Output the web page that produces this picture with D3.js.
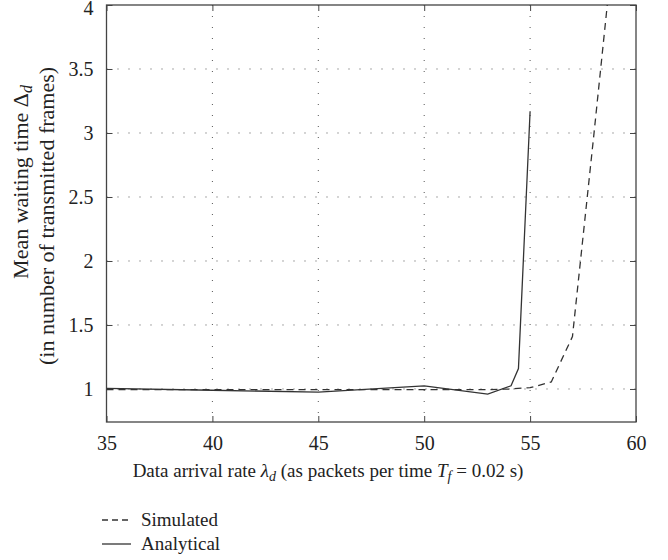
<!DOCTYPE html>
<html>
<head>
<meta charset="utf-8">
<script src="https://cdn.jsdelivr.net/npm/d3@7"></script>
<style>
  body { margin: 0; background: #fff; }
  svg text { font-family: "Liberation Serif", "Times New Roman", Times, serif; }
</style>
</head>
<body>
<svg id="chart"></svg>
<script>
// data
const xTicks = [35, 40, 45, 50, 55, 60];
const yTicks = [1, 1.5, 2, 2.5, 3, 3.5, 4];

const analyticalX = [35, 40, 45, 50, 53, 54.1, 54.45, 55];
const analyticalY = [1.005, 0.99, 0.975, 1.025, 0.96, 1.025, 1.16, 3.17];

const simulatedX = [35, 40, 45, 50, 53, 54, 55, 56, 57, 58, 59];
const simulatedY = [0.995, 0.995, 0.995, 0.995, 0.995, 1.0, 1.01, 1.055, 1.41, 2.97, 4.57];

const legendLabels = ['Simulated', 'Analytical'];

const width = 668, height = 560;
const margin = {top: 5, right: 32, bottom: 138, left: 106.5};
const serif = '"Liberation Serif", "Times New Roman", Times, serif';

const svg = d3.select('#chart')
    .attr('width', width)
    .attr('height', height);

const inner_width = width - margin.left - margin.right;
const inner_height = height - margin.top - margin.bottom;

const chart = svg.append('g')
    .attr('transform', `translate(${margin.left}, ${margin.top})`);

const xscale = d3.scaleLinear().domain([35, 60]).range([0, inner_width]);
const yscale = d3.scaleLinear().domain([0.742, 4]).range([inner_height, 0]);

// dotted grid
chart.append('g')
    .selectAll('line')
    .data(xTicks.slice(1, -1))
    .join('line')
    .attr('x1', d => xscale(d)).attr('x2', d => xscale(d))
    .attr('y1', 0).attr('y2', inner_height)
    .attr('stroke', '#555')
    .attr('stroke-width', 1)
    .attr('stroke-dasharray', '1,10');

chart.append('g')
    .selectAll('line')
    .data(yTicks.slice(0, -1))
    .join('line')
    .attr('x1', 0).attr('x2', inner_width)
    .attr('y1', d => yscale(d)).attr('y2', d => yscale(d))
    .attr('stroke', '#555')
    .attr('stroke-width', 1)
    .attr('stroke-dasharray', '1,10');

// axes, ticks inward on all four sides
const tickLen = 6;
const fmt = d => String(d);
const xaxis = d3.axisBottom(xscale).tickValues(xTicks).tickFormat(fmt).tickSizeInner(-tickLen).tickSizeOuter(0).tickPadding(14);
const yaxis = d3.axisLeft(yscale).tickValues(yTicks).tickFormat(fmt).tickSizeInner(-tickLen).tickSizeOuter(0).tickPadding(13);
const xaxisTop = d3.axisTop(xscale).tickValues(xTicks).tickSizeInner(-tickLen).tickSizeOuter(0).tickFormat('');
const yaxisRight = d3.axisRight(yscale).tickValues(yTicks).tickSizeInner(-tickLen).tickSizeOuter(0).tickFormat('');

const styleAxis = g => {
    g.attr('font-family', serif);
    g.select('.domain').remove();
    g.selectAll('.tick line').attr('stroke', '#444').attr('stroke-width', 1);
    g.selectAll('.tick text')
        .attr('fill', '#222')
        .style('font-size', '20px');
};

chart.append('g').attr('transform', `translate(0, ${inner_height})`).call(xaxis).call(styleAxis);
chart.append('g').call(yaxis).call(styleAxis)
    .selectAll('.tick text').filter(d => d === 4).attr('dy', '0.45em');
chart.append('g').call(xaxisTop).call(styleAxis);
chart.append('g').attr('transform', `translate(${inner_width}, 0)`).call(yaxisRight).call(styleAxis);

chart.append('rect')
    .attr('x', 0).attr('y', 0)
    .attr('width', inner_width).attr('height', inner_height)
    .attr('fill', 'none')
    .attr('stroke', '#444')
    .attr('stroke-width', 1.3);

// curves
chart.append('clipPath').attr('id', 'clip')
    .append('rect').attr('width', inner_width).attr('height', inner_height);

const line = d3.line()
    .x(d => xscale(d[0]))
    .y(d => yscale(d[1]));

chart.append('path')
    .datum(d3.zip(simulatedX, simulatedY))
    .attr('clip-path', 'url(#clip)')
    .attr('fill', 'none')
    .attr('stroke', '#333')
    .attr('stroke-width', 1.3)
    .attr('stroke-dasharray', '7,5')
    .attr('d', line);

chart.append('path')
    .datum(d3.zip(analyticalX, analyticalY))
    .attr('clip-path', 'url(#clip)')
    .attr('fill', 'none')
    .attr('stroke', '#333')
    .attr('stroke-width', 1.3)
    .attr('d', line);

// axis titles
const xlabel = svg.append('text')
    .attr('x', 328)
    .attr('y', 477)
    .attr('text-anchor', 'middle')
    .attr('fill', '#222')
    .style('font-size', '19px');
xlabel.append('tspan').text('Data arrival rate ');
xlabel.append('tspan').attr('font-style', 'italic').text('λ');
xlabel.append('tspan').attr('font-style', 'italic').attr('font-size', '14px').attr('dy', 4).text('d');
xlabel.append('tspan').attr('dy', -4).text(' (as packets per time ');
xlabel.append('tspan').attr('font-style', 'italic').text('T');
xlabel.append('tspan').attr('font-style', 'italic').attr('font-size', '14px').attr('dy', 4).text('f');
xlabel.append('tspan').attr('dy', -4).text(' = 0.02 s)');

const ylabel = svg.append('text')
    .attr('transform', 'rotate(-90)')
    .attr('text-anchor', 'middle')
    .attr('fill', '#222')
    .style('font-size', '22px');
const yl1 = ylabel.append('tspan').attr('x', -182).attr('y', 28);
yl1.append('tspan').text('Mean waiting time Δ');
yl1.append('tspan').attr('font-style', 'italic').attr('font-size', '16px').attr('dy', 4).text('d');
ylabel.append('tspan').attr('x', -216).attr('y', 54).text('(in number of transmitted frames)');

// legend
const legend = svg.append('g').attr('transform', 'translate(102, 520)');
const legendDash = ['6,4', null];
legend.selectAll('line')
    .data(legendLabels)
    .join('line')
    .attr('x1', 0).attr('x2', 29)
    .attr('y1', (d, i) => i * 24).attr('y2', (d, i) => i * 24)
    .attr('stroke', '#333')
    .attr('stroke-width', 1.3)
    .attr('stroke-dasharray', (d, i) => legendDash[i]);
legend.selectAll('text')
    .data(legendLabels)
    .join('text')
    .attr('x', 39)
    .attr('y', (d, i) => i * 24 + 6)
    .attr('fill', '#222')
    .style('font-size', '19px')
    .text(d => d);
</script>
</body>
</html>
